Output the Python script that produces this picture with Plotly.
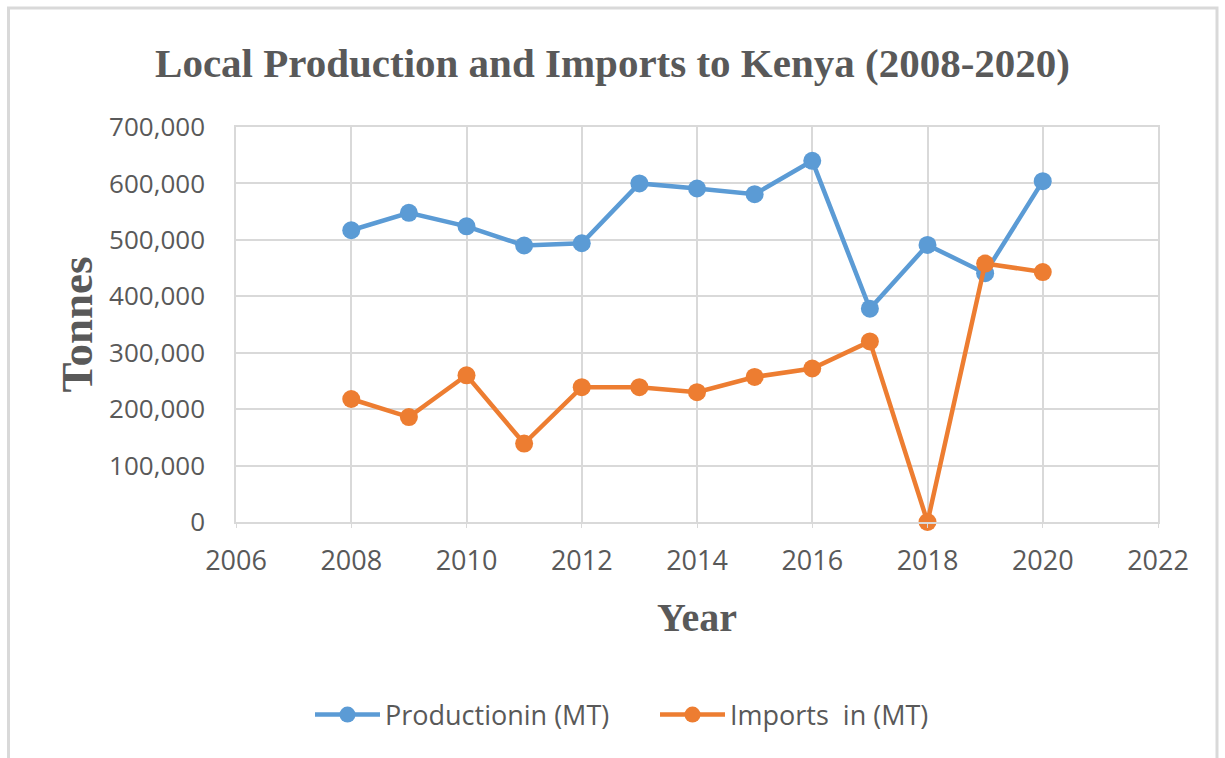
import plotly.graph_objects as go

years = [2008, 2009, 2010, 2011, 2012, 2013, 2014, 2015, 2016, 2017, 2018, 2019, 2020]
production = [517000, 548000, 524000, 490000, 494000, 600000, 591000, 581000, 640000, 378000, 491000, 441000, 604000]
imports = [218000, 186000, 260000, 139000, 239000, 239000, 230000, 257000, 272000, 320000, 0, 458000, 443000]

y_ticks = [0, 100000, 200000, 300000, 400000, 500000, 600000, 700000]
x_ticks = [2006, 2008, 2010, 2012, 2014, 2016, 2018, 2020, 2022]

BLUE = "#5B9BD5"
ORANGE = "#ED7D31"
GRID = "#D9D9D9"
TXT = "#595959"

fig = go.Figure()
fig.add_trace(go.Scatter(x=years, y=production, mode="lines+markers", name="Productionin (MT)",
                         line=dict(color=BLUE, width=4.5), marker=dict(color=BLUE, size=18),
                         cliponaxis=False))
fig.add_trace(go.Scatter(x=years, y=imports, mode="lines+markers", name="Imports\u00a0 in (MT)",
                         line=dict(color=ORANGE, width=4.5), marker=dict(color=ORANGE, size=18),
                         cliponaxis=False))

L, R, T, B = 236, 67, 127, 236
W, H = 1225, 758
pw, ph = W - L - R, H - T - B

def px_x(p):
    return (p - L) / pw

def px_y(p):
    return (H - B - p) / ph

fig.update_layout(
    width=W, height=H,
    margin=dict(l=L, r=R, t=T, b=B, autoexpand=False),
    paper_bgcolor="white", plot_bgcolor="white",
    title=dict(text="<b>Local Production and Imports to Kenya (2008-2020)</b>",
               x=0.5, xanchor="center", y=1 - 63 / H, yanchor="middle",
               font=dict(family="Liberation Serif", size=41, color=TXT)),
    xaxis=dict(range=[2006, 2022], tickvals=x_ticks, ticktext=[str(v) for v in x_ticks],
               showgrid=True, gridcolor=GRID, gridwidth=1.5,
               showline=True, linecolor=GRID, linewidth=1.5, mirror=True,
               ticks="outside", ticklen=4, tickcolor=GRID, ticklabelstandoff=10,
               tickfont=dict(family="Open Sans", size=27, color=TXT),
               zeroline=False,
               title=dict(text="<b>Year</b>", standoff=26,
                          font=dict(family="Liberation Serif", size=40, color=TXT))),
    yaxis=dict(range=[0, 700000], tickvals=y_ticks, tickformat=",d",
               showgrid=True, gridcolor=GRID, gridwidth=1.5,
               showline=True, linecolor=GRID, linewidth=1.5, mirror=True,
               ticks="", ticklabelstandoff=24,
               tickfont=dict(family="Open Sans", size=26, color=TXT),
               zeroline=False,
               title=dict(text="<b>Tonnes</b>", standoff=2,
                          font=dict(family="Liberation Serif", size=45, color=TXT))),
    legend=dict(orientation="h", x=px_x(310), xanchor="left", y=px_y(715), yanchor="middle",
                font=dict(family="Open Sans", size=27, color=TXT), itemwidth=65,
                entrywidth=265, entrywidthmode="pixels",
                bgcolor="rgba(0,0,0,0)"),
    showlegend=True,
)

fig.add_shape(type="rect", xref="paper", yref="paper",
              x0=px_x(8.5), x1=px_x(1217), y0=px_y(790), y1=px_y(8),
              line=dict(color=GRID, width=3), fillcolor="rgba(0,0,0,0)", layer="below")

fig.write_html("out.html")
